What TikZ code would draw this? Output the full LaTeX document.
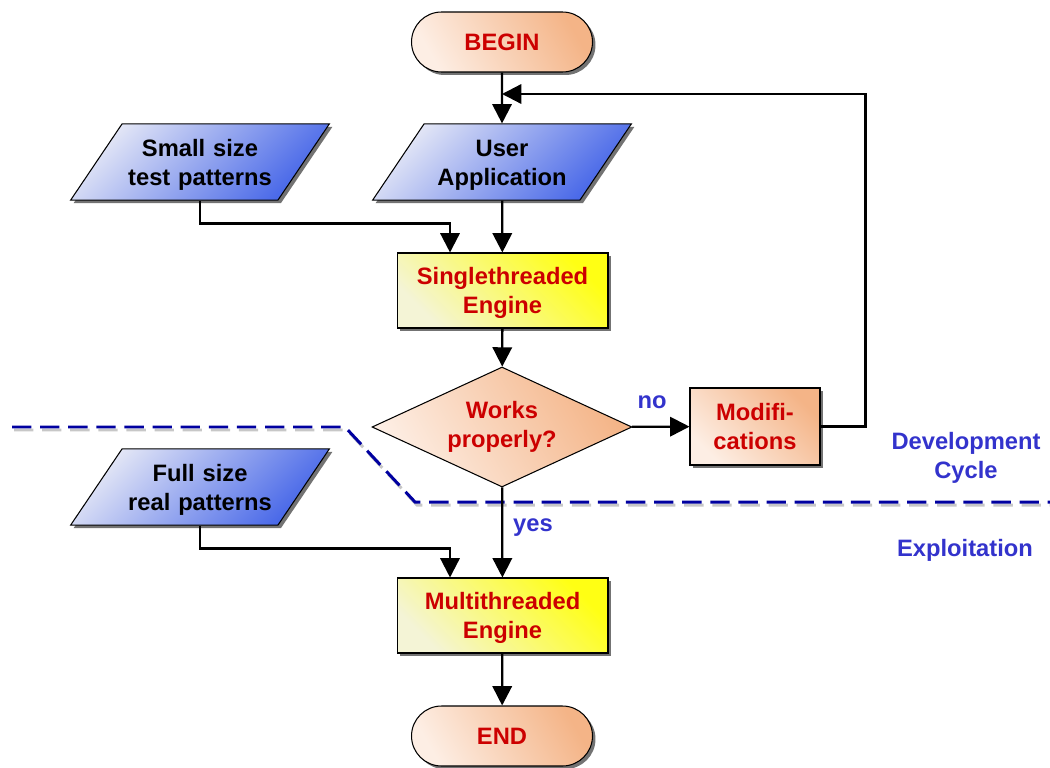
\documentclass[tikz,border=0pt]{standalone}
\usepackage{fontspec}
\setmainfont{Liberation Sans}
\usetikzlibrary{shapes.geometric,shadows,arrows.meta}

\definecolor{peachlight}{RGB}{253,238,228}
\definecolor{peachdark}{RGB}{244,180,135}
\definecolor{bluelight}{RGB}{228,231,246}
\definecolor{bluedark}{RGB}{70,102,232}
\definecolor{yellowlight}{RGB}{244,244,214}
\definecolor{yellowdark}{RGB}{255,255,20}
\definecolor{textred}{RGB}{204,0,0}
\definecolor{textblue}{RGB}{51,51,204}
\definecolor{sepblue}{RGB}{0,0,160}

\begin{document}
\begin{tikzpicture}[x=0.02cm, y=-0.02cm,
      font=\bfseries\fontsize{13.5}{16.5}\selectfont,
      boxshadow/.style ={drop shadow={shadow xshift=0.06cm, shadow yshift=-0.06cm, fill=black!55, opacity=1}},
      terminal/.style ={rectangle, rounded corners=0.6cm, draw, semithick, boxshadow,
                        minimum width=3.62cm, minimum height=1.2cm, text=textred,
                        top color=peachdark, bottom color=peachlight, shading angle=-60},
      datainput/.style ={trapezium, trapezium left angle=56, trapezium right angle=124,
                        draw, semithick, boxshadow, align=center, text width=2.9cm,
                        inner xsep=0.11cm, inner ysep=0.19cm, text height=13.2pt,
                        top color=bluelight, bottom color=bluedark, shading angle=45},
      engine/.style ={rectangle, draw, semithick, boxshadow, align=center, text=textred,
                        minimum width=4.22cm, minimum height=1.5cm, text depth=0pt,
                        top color=yellowdark, bottom color=yellowlight, shading angle=-45},
      decision/.style ={diamond, draw, semithick, align=center, text=textred, inner sep=0pt,
                        aspect=2, minimum width=5.2cm, minimum height=2.4cm,
                        top color=peachdark, bottom color=peachlight, shading angle=-60},
      process/.style ={rectangle, draw, semithick, boxshadow, align=center, text=textred,
                        minimum width=2.6cm, minimum height=1.54cm, text depth=0pt,
                        top color=peachdark, bottom color=peachlight, shading angle=-45},
      flow/.style ={line width=1.3pt, -{Triangle[length=11pt, width=11pt]}},
      remark/.style ={text=textblue, align=center},
      separator/.style ={line width=1.7pt, dash pattern=on 11pt off 5pt}]

   \useasboundingbox (0,0) rectangle (1050,767);

   % the dashed border between the two phases
   \draw[separator, black!22, shift={(2,3)}] (12,427) -- (345,427) -- (415,502) -- (1050,502);
   \draw[separator, sepblue] (12,427) -- (345,427) -- (415,502) -- (1050,502);

   \node[terminal] (A)  at (502,42)  {BEGIN};
   \node[datainput] (B)  at (502,162)  {User\\Application};
   \node[datainput] (C)  at (200,162)  {Small size\\test patterns};
   \node[engine] (D)  at (502.5,290.5)  {Singlethreaded\\Engine};
   \node[decision] (E)  at (502,427)  {Works\\properly?};
   \node[process] (F)  at (755,426.5)  {Modifi-\\cations};
   \node[datainput] (G)  at (200,487)  {Full size\\real patterns};
   \node[engine] (H)  at (502.5,615.5)  {Multithreaded\\Engine};
   \node[terminal] (I)  at (502,736)  {END};

   \node[remark] (no)  at (652,402)  {no};
   \node[remark] (yes)  at (533,528)  {yes};
   \node[remark] (dev)  at (966,458)  {Development\\Cycle};
   \node[remark] (exp)  at (965,550)  {Exploitation};

   \coordinate (L) at (502,94);

   \draw[flow] (A) to  (B);
   \draw[flow] (B) to  (D);
   \draw[flow] (C.south) -- ++(0,23) -| ([xshift=-1.05cm]D.north);
   \draw[flow] (D) to  (E);
   \draw[flow] (E) to  (F);
   \draw[flow] (F.east) -- ++(45,0) |- (L);
   \draw[flow] (E) to  (H);
   \draw[flow] (G.south) -- ++(0,23) -| ([xshift=-1.05cm]H.north);
   \draw[flow] (H) to  (I);

 \end{tikzpicture}
\end{document}
